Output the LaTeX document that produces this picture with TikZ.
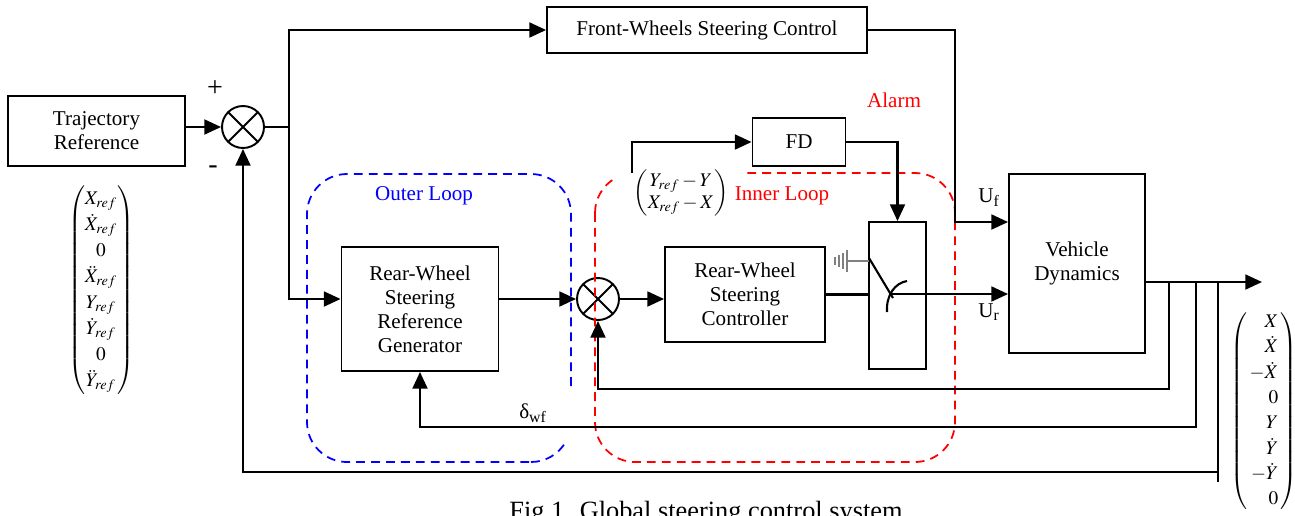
\documentclass[tikz,border=0pt]{standalone}
\usepackage{amsmath}
\usepackage{mathptmx}
\usepackage[no-math]{fontspec}
\setmainfont{Liberation Serif}
\usetikzlibrary{arrows.meta,calc}
\begin{document}
\begin{tikzpicture}[x=0.02cm,y=-0.02cm,
  font=\fontsize{12}{13.6}\selectfont,
  blk/.style={draw,line width=1.1pt,align=center,inner sep=0pt},
  ln/.style={line width=1.2pt},
  arr/.style={line width=1.2pt,-{Triangle[length=9.5pt,width=8.5pt]}},
  sumj/.style={draw,circle,line width=1.1pt,minimum size=0.84cm,inner sep=0pt,
    path picture={\draw[line width=1.1pt] (path picture bounding box.north west)--(path picture bounding box.south east) (path picture bounding box.south west)--(path picture bounding box.north east);}},
  loopdash/.style={dash pattern=on 5pt off 3.5pt, line width=1pt},
  loopline/.style={loopdash, rounded corners=0.8cm}]
\useasboundingbox (0,0) rectangle (1295,515);

% blocks
\node[blk,minimum width=3.54cm,minimum height=1.4cm] (traj) at (96.5,131) {Trajectory\\Reference};
\node[sumj] (s1) at (243,127) {};
\node[blk,minimum width=6.4cm,minimum height=0.92cm] (front) at (707,30) {Front-Wheels Steering Control};
\node[blk,minimum width=3.14cm,minimum height=2.48cm] (gen) at (420,309) {Rear-Wheel\\Steering\\Reference\\Generator};
\node[sumj] (s2) at (598,299) {};
\node[blk,minimum width=3.2cm,minimum height=1.9cm] (ctrl) at (745,294.5) {Rear-Wheel\\Steering\\Controller};
\node[blk,minimum width=1.86cm,minimum height=0.96cm] (fd) at (799,142) {FD};
\node[blk,minimum width=1.14cm,minimum height=2.94cm] (sw) at (897.5,295.5) {};
\node[blk,minimum width=2.72cm,minimum height=3.58cm] (veh) at (1077,263.5) {Vehicle\\Dynamics};

% coordinates
\coordinate (j1) at (289,127);
\coordinate (m0) at (632,173);
\coordinate (uf) at (955,222);
\coordinate (swo) at (890,294);
\coordinate (out) at (1262,282);
\coordinate (b1) at (1169,282);
\coordinate (b2) at (1196,282);
\coordinate (b3) at (1218,282);
\coordinate (f1) at (1169,389);
\coordinate (f2) at (1196,427);
\coordinate (f3) at (1218,472);
\coordinate (f3e) at (1218,482);

% loops
\draw[loopline, blue] (571,386) -- (571,174) -- (307,174) -- (307,462) -- (531,462);
\draw[loopdash, blue] (531,462) arc[start angle=90,end angle=30,radius=40];
\draw[loopline, red] (595,213) -- (595,462) -- (955,462) -- (955,173) -- (745,173);
\draw[loopdash, red] (595,213) arc[start angle=180,end angle=240,radius=40];

% connectors
\draw[arr] (traj.east |- s1) -- (s1.west);
\draw[ln] (s1.east) -- (j1);
\draw[arr] (j1) |- (front.west);
\draw[arr] (j1) |- (gen.west |- s2);
\draw[arr] (gen.east |- s2) -- (s2.west);
\draw[arr] (s2.east) -- (ctrl.west |- s2);
\draw[ln] (ctrl.east) -- (sw.west |- ctrl.east);
\draw[arr] (swo) -- (veh.west |- swo);
\draw[arr] (front.east) -| (uf) -- (veh.west |- uf);
\draw[arr] (m0) |- (fd.west);
\draw[arr] (fd.east) -| (sw.north);
\draw[arr] (veh.east |- out) -- (out);
\draw[arr] (b1) -- (f1) -| (s2.south);
\draw[arr] (b2) -- (f2) -| (gen.south);
\draw[ln] (b3) -- (f3e);
\draw[arr] (f3) -| (s1.south);

% switch details
\draw[gray, line width=1pt] (847,261) -- (869,261);
\draw[gray, line width=1pt] (847,250) -- (847,272) (843,253) -- (843,269) (839,255) -- (839,267) (835,257) -- (835,265);
\draw[ln] (869,258) -- (893,298);
\draw[ln] (887,312) .. controls (886,295) and (895,283) .. (907,281);

% labels
\node[blue] (ol) at (424,196) {Outer Loop};
\node[red] (il) at (782,196) {Inner Loop};
\node[red] (al) at (894,100) {Alarm};
\node (uflab) at (989,198) {U\textsubscript{f}};
\node (urlab) at (989,312) {U\textsubscript{r}};
\node (dwf) at (533,413) {δ\textsubscript{wf}};
\node (plus) at (215,89) {\fontsize{16}{16}\selectfont +};
\node (minus) at (213,170) {\fontsize{16}{16}\selectfont -};
\node (em) at (681,193) {\fontsize{11}{13}\selectfont$\begin{pmatrix}Y_{ref}-Y\\ X_{ref}-X\end{pmatrix}$};
\node (vref) at (101,290) {\fontsize{11}{13}\selectfont$\renewcommand\arraystretch{1.14}\begin{pmatrix}X_{ref}\\ \dot X_{ref}\\ 0\\ \ddot X_{ref}\\ Y_{ref}\\ \dot Y_{ref}\\ 0\\ \ddot Y_{ref}\end{pmatrix}$};
\node (vout) at (1264,411) {\fontsize{11}{13}\selectfont$\renewcommand\arraystretch{1.11}\left(\begin{array}{@{\,}r@{\,}} X\\ \dot X\\ -\dot X\\ 0\\ Y\\ \dot Y\\ -\dot Y\\ 0\end{array}\right)$};
\node[anchor=base] (cap) at (706,519.5) {\fontsize{15}{18}\selectfont Fig 1. Global steering control system};
\end{tikzpicture}
\end{document}
